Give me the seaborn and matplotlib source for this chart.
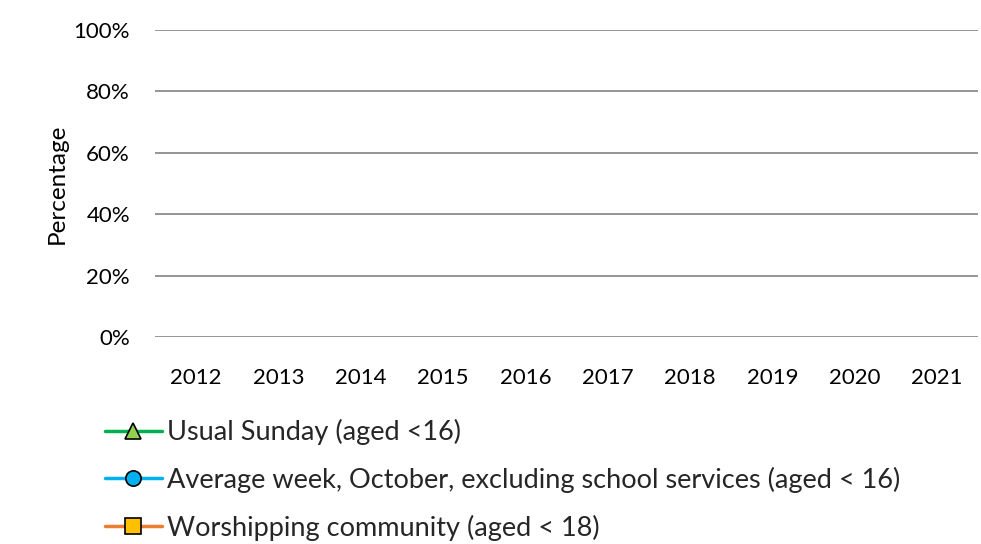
import numpy as np
import pandas as pd
import seaborn as sns
import matplotlib.pyplot as plt
from matplotlib.ticker import PercentFormatter

# years on the x axis
years = ['2012', '2013', '2014', '2015', '2016', '2017', '2018', '2019', '2020', '2021']
# the reference shows no plotted points, so every series is empty (NaN)
usual_sunday = [np.nan] * 10
average_week = [np.nan] * 10
worshipping = [np.nan] * 10

labels = ['Usual Sunday (aged <16)',
          'Average week, October, excluding school services (aged < 16)',
          'Worshipping community (aged < 18)']

df = pd.DataFrame({'year': years, labels[0]: usual_sunday,
                   labels[1]: average_week, labels[2]: worshipping})

sns.set_theme(style='white')
plt.rcParams['font.family'] = ['Lato', 'DejaVu Sans']

fig = plt.figure(figsize=(9.81, 5.44), dpi=100)
ax = fig.add_axes([0.158, 0.3805, 0.839, 0.5645])

styles = [('#00B050', '^', '#92D050'),
          ('#00B0F0', 'o', '#00B0F0'),
          ('#ED7D31', 's', '#FFC000')]
x = np.arange(len(years))
for lab, (lc, mk, fc) in zip(labels, styles):
    ax.plot(x, df[lab], color=lc, lw=2.5, marker=mk, markersize=11,
            markerfacecolor=fc, markeredgecolor='black', markeredgewidth=1.2,
            label=lab)

ax.set_xlim(-0.5, len(years) - 0.5)
ax.set_ylim(0, 1)
ax.set_xticks(x)
ax.set_xticklabels(years)
ax.set_yticks(np.arange(0, 1.01, 0.2))
ax.yaxis.set_major_formatter(PercentFormatter(1.0, decimals=0))
ax.grid(axis='y', color='#8c8c8c', lw=1.3)
ax.set_axisbelow(True)
for s in ax.spines.values():
    s.set_visible(False)
ax.tick_params(axis='both', length=0, labelsize=16, colors='black')
ax.tick_params(axis='x', pad=22)
ax.tick_params(axis='y', pad=18)
ax.set_ylabel('Percentage', fontsize=17.5, color='black', labelpad=4)

fig.legend(loc='upper left', bbox_to_anchor=(0.107, 0.23), frameon=False,
           fontsize=19.5, handlelength=2.1, handletextpad=0.2,
           labelspacing=0.8, borderaxespad=0, borderpad=0)

fig.savefig('out.png', dpi=100)
